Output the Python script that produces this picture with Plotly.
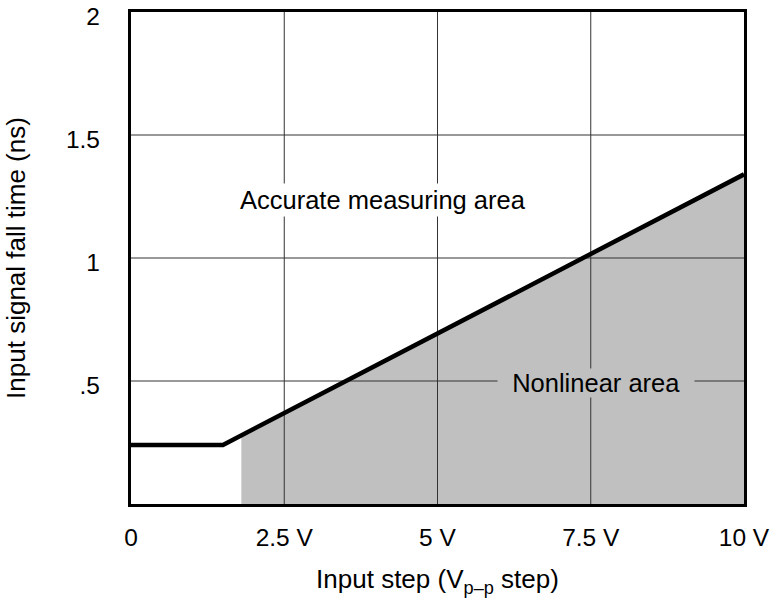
import plotly.graph_objects as go

# Data
line_x = [0, 1.5, 10]
line_y = [0.24, 0.24, 1.34]
fill_x = [1.8, 1.8, 10, 10]
fill_y = [0, 0.28, 1.34, 0]
x_ticks = [0, 2.5, 5, 7.5, 10]
x_labels = ["0", "2.5 V", "5 V", "7.5 V", "10 V"]
y_ticks = [0.5, 1, 1.5, 2]
y_labels = [".5", "1", "1.5", "2"]
grid_x = [2.5, 5, 7.5]
grid_y = [0.5, 1, 1.5]

FONT = "Liberation Sans, Arial, sans-serif"
FS = 26
LABEL_SHIFT = 0.02  # y tick labels sit slightly below their gridlines in the reference

fig = go.Figure()

fig.add_trace(go.Scatter(x=fill_x, y=fill_y, fill="toself", fillcolor="#c0c0c0",
                         mode="none", hoverinfo="skip", showlegend=False))

gx, gy = [], []
for v in grid_x:
    gx += [v, v, None]
    gy += [0, 2, None]
for v in grid_y:
    gx += [0, 10, None]
    gy += [v, v, None]
fig.add_trace(go.Scatter(x=gx, y=gy, mode="lines", line=dict(color="#333333", width=1),
                         hoverinfo="skip", showlegend=False))

fig.add_trace(go.Scatter(x=line_x, y=line_y, mode="lines",
                         line=dict(color="black", width=4.5), showlegend=False,
                         cliponaxis=False))

# carrier trace for the label axis
fig.add_trace(go.Scatter(x=[None], y=[None], yaxis="y2", showlegend=False, hoverinfo="skip"))

fig.add_annotation(x=4.11, y=1.235, text="Accurate measuring area", showarrow=False,
                   font=dict(family=FONT, size=25.5, color="black"), bgcolor="white",
                   borderpad=2)
fig.add_annotation(x=7.59, y=0.49, text="\u00a0\u00a0Nonlinear area\u00a0\u00a0", showarrow=False,
                   font=dict(family=FONT, size=25.5, color="black"), bgcolor="#c0c0c0",
                   borderpad=0)

fig.update_layout(
    width=773, height=610,
    margin=dict(l=131, r=29, t=12, b=106),
    paper_bgcolor="white", plot_bgcolor="white",
    font=dict(family=FONT, size=FS, color="black"),
    xaxis=dict(range=[0, 10], tickvals=x_ticks, ticktext=x_labels, showgrid=False,
               zeroline=False, showline=True, linecolor="black", linewidth=3, mirror=True,
               ticks="", ticklabelstandoff=10, automargin=False, tickfont=dict(size=24.5),
               title=dict(text="Input step (V<sub>p\u2013p</sub> step)", standoff=20,
                          font=dict(size=FS))),
    yaxis=dict(range=[0, 2], showticklabels=False, showgrid=False,
               zeroline=False, showline=True, linecolor="black", linewidth=3, mirror=True,
               ticks="", automargin=False),
    yaxis2=dict(range=[LABEL_SHIFT, 2 + LABEL_SHIFT], overlaying="y", side="left",
                tickvals=y_ticks, ticktext=y_labels, showgrid=False, zeroline=False,
                showline=False, ticks="", ticklabelstandoff=30, automargin=False,
                ticklabeloverflow="allow", tickfont=dict(size=24.5),
                title=dict(text="Input signal fall time (ns)", standoff=32,
                           font=dict(size=FS))),
)

fig.write_html("out.html", config={"displayModeBar": False},
               post_script="document.body.style.margin='0';")
